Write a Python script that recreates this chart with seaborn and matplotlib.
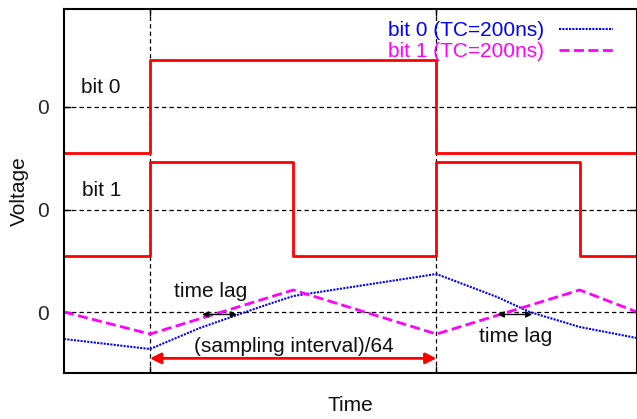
import matplotlib
matplotlib.use("Agg")
import matplotlib.pyplot as plt
import seaborn as sns
import pandas as pd

# ---- data (time in arbitrary units, voltage offset per trace) ----
bit0_t = [0.0, 1.5, 6.5, 10.0]
bit0_v = [1.55, 2.455, 1.55, 1.55]

bit1_t = [0.0, 1.5, 4.0, 6.5, 9.0, 10.0]
bit1_v = [0.545, 1.46, 0.545, 1.46, 0.545, 0.545]

rc0_t = [0.0, 1.5, 2.37, 3.42, 4.0, 6.5, 7.56, 8.13, 9.0, 10.0]
rc0_v = [-0.263, -0.361, -0.156, 0.049, 0.156, 0.371, 0.146, 0.0, -0.146, -0.254]

rc1_t = [0.0, 1.5, 4.0, 6.5, 9.0, 10.0]
rc1_v = [0.0, -0.215, 0.215, -0.215, 0.215, 0.0]

x_ticks = [1.5, 6.5]
y_ticks = [0, 1, 2]
y_ticklabels = ["0", "0", "0"]

sns.set_theme(style="ticks")
plt.rcParams["font.family"] = ["Liberation Sans", "DejaVu Sans"]

fig = plt.figure(figsize=(6.37, 4.19), dpi=100)
ax = fig.add_axes([64 / 637, 1 - 373 / 419, 573 / 637, 364 / 419])

FS = 15

sns.lineplot(x=bit0_t, y=bit0_v, ax=ax, color="#ff0000", lw=2.0,
             drawstyle="steps-post", sort=False, estimator=None)
sns.lineplot(x=bit1_t, y=bit1_v, ax=ax, color="#ff0000", lw=2.0,
             drawstyle="steps-post", sort=False, estimator=None)
sns.lineplot(x=rc0_t, y=rc0_v, ax=ax, color="#0000ff", lw=1.5,
             linestyle=(0, (1, 0.6)), sort=False, estimator=None,
             label="bit 0 (TC=200ns)")
sns.lineplot(x=rc1_t, y=rc1_v, ax=ax, color="#ff00ff", lw=2.0,
             linestyle=(0, (3.6, 1.6)), sort=False, estimator=None,
             label="bit 1 (TC=200ns)")

ax.set_xlim(0, 10)
ax.set_ylim(-0.595, 2.956)
ax.set_xticks(x_ticks)
ax.set_xticklabels([])
ax.set_yticks(y_ticks)
ax.set_yticklabels(y_ticklabels, fontsize=FS)
ax.tick_params(direction="in", top=True, right=True, length=5, width=1,
               color="black", pad=11)
ax.grid(True, color="black", linestyle=(0, (3.5, 2.5)), lw=0.9)
for s in ax.spines.values():
    s.set_color("black")
    s.set_linewidth(1.5)

ax.set_xlabel("Time", fontsize=FS, labelpad=5.5, color="#111111")
ax.set_ylabel("Voltage", fontsize=FS, labelpad=6, color="#111111")

ax.text(0.3, 2.195, "bit 0", fontsize=FS, ha="left", va="center", color="#111111")
ax.text(0.31, 1.19, "bit 1", fontsize=FS, ha="left", va="center", color="#111111")
ax.text(2.565, 0.146, "time lag", fontsize=FS, ha="center", va="baseline", color="#111111")
ax.text(7.89, -0.293, "time lag", fontsize=FS, ha="center", va="baseline", color="#111111")
ax.text(4.02, -0.39, "(sampling interval)/64", fontsize=FS, ha="center",
        va="baseline", color="#111111")

ax.annotate("", xy=(3.02, -0.024), xytext=(2.41, -0.024),
            arrowprops=dict(arrowstyle="<|-|>", color="black", lw=1.0,
                            mutation_scale=9, shrinkA=0, shrinkB=0))
ax.annotate("", xy=(8.17, -0.024), xytext=(7.57, -0.024),
            arrowprops=dict(arrowstyle="<|-|>", color="black", lw=1.0,
                            mutation_scale=9, shrinkA=0, shrinkB=0))
ax.annotate("", xy=(6.5, -0.452), xytext=(1.5, -0.452),
            arrowprops=dict(arrowstyle="<|-|>", color="#ff0000", lw=2.0,
                            mutation_scale=16, shrinkA=0, shrinkB=0))

ax.legend(loc="upper right", bbox_to_anchor=(0.958, 0.967),
          borderaxespad=0, borderpad=0, frameon=False, markerfirst=False,
          labelcolor="linecolor", handlelength=2.6, handletextpad=0.7,
          labelspacing=0.1, fontsize=FS)

fig.savefig("out.png", dpi=100)
